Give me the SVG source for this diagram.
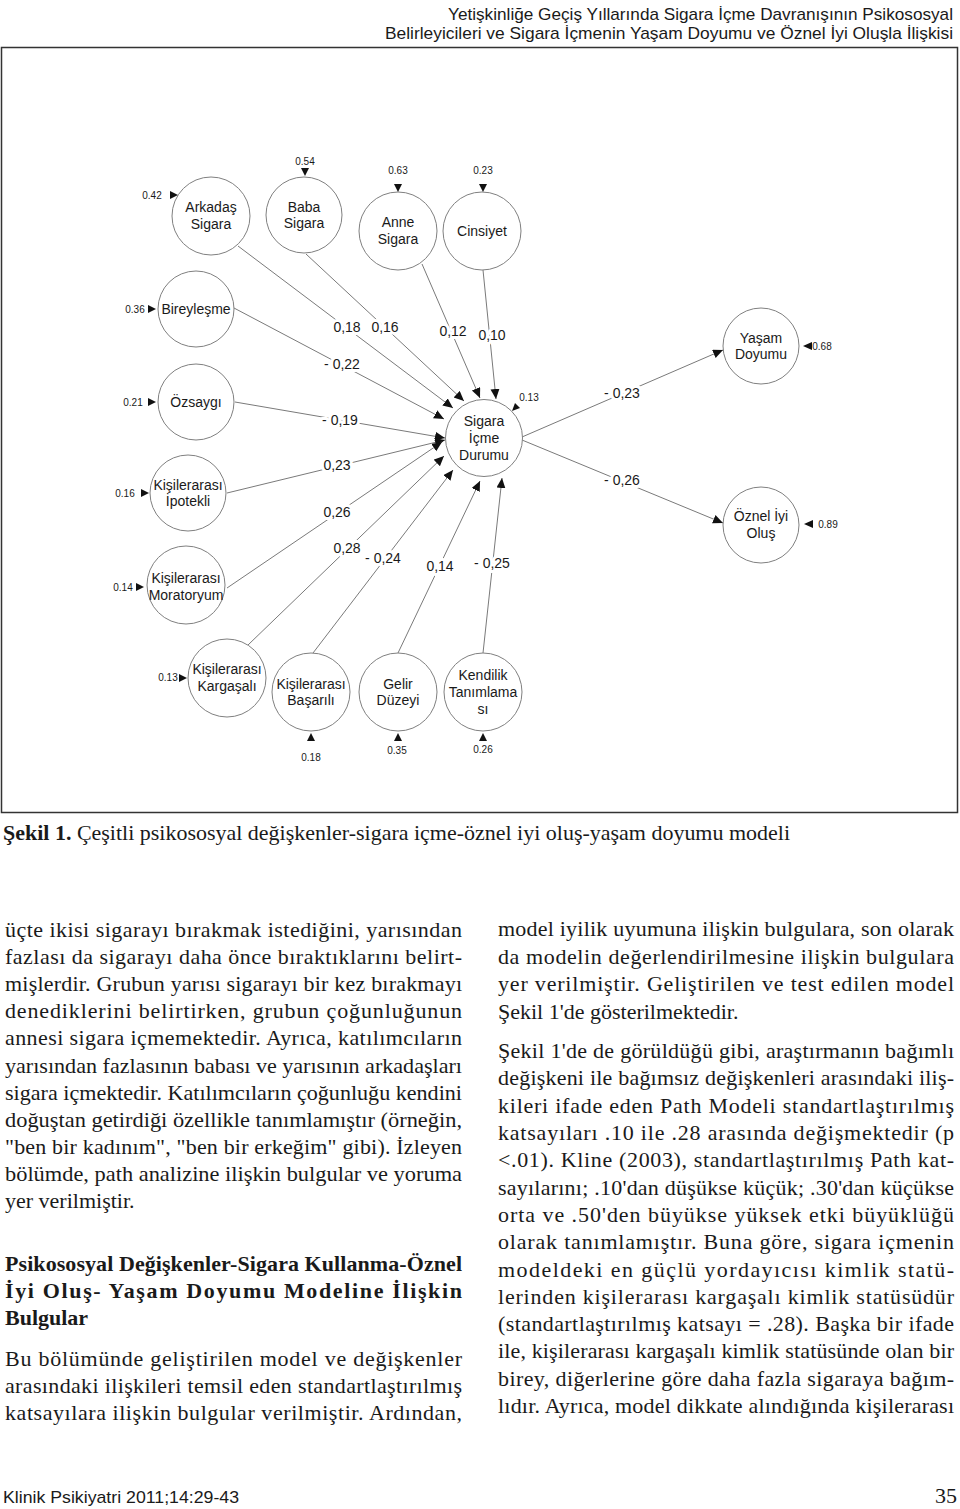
<svg xmlns="http://www.w3.org/2000/svg" width="960" height="1509" viewBox="0 0 960 1509">
<style>
.bg{fill:#fff}
.frame{fill:none;stroke:#333;stroke-width:1.5}
.n circle{fill:#fff;stroke:#808080;stroke-width:1}
.n text{font-family:"Liberation Sans",Arial,sans-serif;font-size:14px;fill:#1a1a1a;text-anchor:middle}
.c line{stroke:#7a7a7a;stroke-width:1;marker-end:url(#ah)}
.cl{font-family:"Liberation Sans",Arial,sans-serif;font-size:14px;fill:#1a1a1a;text-anchor:middle;paint-order:stroke;stroke:#fff;stroke-width:6px;stroke-linejoin:round}
.e text{font-family:"Liberation Sans",Arial,sans-serif;font-size:10px;fill:#1a1a1a;text-anchor:middle}
.e polygon{fill:#111}
.hd{font-family:"Liberation Sans",Arial,sans-serif;font-size:17px;fill:#1a1a1a}
.b{font-family:"Liberation Serif","Times New Roman",serif;font-size:22px;fill:#1a1a1a}
.bb{font-family:"Liberation Serif","Times New Roman",serif;font-size:22px;font-weight:bold;fill:#1a1a1a}
.ft{font-family:"Liberation Sans",Arial,sans-serif;font-size:17px;fill:#1a1a1a}
</style>
<defs>
<marker id="ah" markerUnits="userSpaceOnUse" markerWidth="11" markerHeight="10" refX="10" refY="4.5" orient="auto">
<path d="M0,0 L10,4.5 L0,9 z" fill="#111"/>
</marker>
</defs>
<rect class="bg" x="0" y="0" width="960" height="1509"/>

<!-- header -->
<text class="hd" x="448" y="20" textLength="505" lengthAdjust="spacingAndGlyphs">Yetişkinliğe Geçiş Yıllarında Sigara İçme Davranışının Psikososyal</text>
<text class="hd" x="385" y="39" textLength="568" lengthAdjust="spacingAndGlyphs">Belirleyicileri ve Sigara İçmenin Yaşam Doyumu ve Öznel İyi Oluşla İlişkisi</text>
<rect class="frame" x="1.5" y="47.5" width="956" height="765"/>

<!-- connectors -->
<g id="connectors" class="c">
<line x1="238" y1="246" x2="453" y2="408"/>
<line x1="306" y1="254" x2="464" y2="401"/>
<line x1="422" y1="264" x2="480" y2="398"/>
<line x1="483" y1="270" x2="496" y2="399"/>
<line x1="234" y1="308" x2="444" y2="419"/>
<line x1="235" y1="402" x2="445" y2="438"/>
<line x1="227" y1="493" x2="445" y2="440"/>
<line x1="227" y1="588" x2="442" y2="442"/>
<line x1="248" y1="645" x2="444" y2="456"/>
<line x1="313" y1="653" x2="453" y2="470"/>
<line x1="398" y1="653" x2="480" y2="481"/>
<line x1="483" y1="653" x2="502" y2="478"/>
<line x1="522" y1="437" x2="723" y2="350"/>
<line x1="522" y1="440" x2="723" y2="523"/>
</g>
<g id="coef-labels">
<text class="cl" x="347" y="332">0,18</text>
<text class="cl" x="385" y="332">0,16</text>
<text class="cl" x="453" y="336">0,12</text>
<text class="cl" x="492" y="340">0,10</text>
<text class="cl" x="342" y="369">- 0,22</text>
<text class="cl" x="340" y="425">- 0,19</text>
<text class="cl" x="337" y="470">0,23</text>
<text class="cl" x="337" y="517">0,26</text>
<text class="cl" x="347" y="553">0,28</text>
<text class="cl" x="383" y="563">- 0,24</text>
<text class="cl" x="440" y="571">0,14</text>
<text class="cl" x="492" y="568">- 0,25</text>
<text class="cl" x="622" y="398">- 0,23</text>
<text class="cl" x="622" y="485">- 0,26</text>
</g>

<!-- nodes -->
<g id="arkadas" class="n"><circle cx="211" cy="216" r="39"/><text x="211" y="212">Arkadaş</text><text x="211" y="229">Sigara</text></g>
<g id="baba" class="n"><circle cx="304" cy="215" r="38"/><text x="304" y="212">Baba</text><text x="304" y="228">Sigara</text></g>
<g id="anne" class="n"><circle cx="398" cy="231" r="39"/><text x="398" y="227">Anne</text><text x="398" y="244">Sigara</text></g>
<g id="cinsiyet" class="n"><circle cx="482" cy="231" r="39"/><text x="482" y="236">Cinsiyet</text></g>
<g id="bireylesme" class="n"><circle cx="196" cy="309" r="38"/><text x="196" y="314">Bireyleşme</text></g>
<g id="ozsaygi" class="n"><circle cx="196" cy="402" r="38"/><text x="196" y="407">Özsaygı</text></g>
<g id="ipotekli" class="n"><circle cx="188" cy="493" r="38"/><text x="188" y="490">Kişilerarası</text><text x="188" y="506">İpotekli</text></g>
<g id="moratoryum" class="n"><circle cx="186" cy="585" r="39"/><text x="186" y="583">Kişilerarası</text><text x="186" y="600">Moratoryum</text></g>
<g id="sigara" class="n"><circle cx="484" cy="438" r="38.5"/><text x="484" y="426">Sigara</text><text x="484" y="443">İçme</text><text x="484" y="460">Durumu</text></g>
<g id="yasam" class="n"><circle cx="761" cy="346" r="38"/><text x="761" y="343">Yaşam</text><text x="761" y="359">Doyumu</text></g>
<g id="oznel" class="n"><circle cx="761" cy="525" r="38"/><text x="761" y="521">Öznel İyi</text><text x="761" y="538">Oluş</text></g>
<g id="kargasali" class="n"><circle cx="227" cy="678" r="39"/><text x="227" y="674">Kişilerarası</text><text x="227" y="691">Kargaşalı</text></g>
<g id="basarili" class="n"><circle cx="311" cy="692" r="39"/><text x="311" y="689">Kişilerarası</text><text x="311" y="705">Başarılı</text></g>
<g id="gelir" class="n"><circle cx="398" cy="692" r="39"/><text x="398" y="689">Gelir</text><text x="398" y="705">Düzeyi</text></g>
<g id="kendilik" class="n"><circle cx="483" cy="692" r="39"/><text x="483" y="680">Kendilik</text><text x="483" y="697">Tanımlama</text><text x="483" y="714">sı</text></g>

<!-- error terms -->
<g id="errors" class="e">
<text x="152" y="199">0.42</text><polygon points="170,191 178,195 170,199"/>
<text x="305" y="165">0.54</text><polygon points="301,168 309,168 305,176"/>
<text x="398" y="174">0.63</text><polygon points="394,184 402,184 398,192"/>
<text x="483" y="174">0.23</text><polygon points="479,184 487,184 483,192"/>
<text x="135" y="313">0.36</text><polygon points="148,305 156,309 148,313"/>
<text x="133" y="406">0.21</text><polygon points="148,398 156,402 148,406"/>
<text x="125" y="497">0.16</text><polygon points="141,489 149,493 141,497"/>
<text x="123" y="591">0.14</text><polygon points="136,583 144,587 136,591"/>
<text x="168" y="681">0.13</text><polygon points="179,674 187,678 179,682"/>
<text x="311" y="761">0.18</text><polygon points="307,741 315,741 311,733"/>
<text x="397" y="754">0.35</text><polygon points="394,741 402,741 398,733"/>
<text x="483" y="753">0.26</text><polygon points="479,741 487,741 483,733"/>
<text x="822" y="350">0.68</text><polygon points="812,342 812,350 803,346"/>
<text x="828" y="528">0.89</text><polygon points="813,520 813,528 804,524"/>
<text x="529" y="401">0.13</text><polygon points="512,411 515,403 520,408"/>
</g>

<!-- caption -->
<text class="b" x="3" y="840" textLength="787" lengthAdjust="spacingAndGlyphs"><tspan font-weight="bold">Şekil 1.</tspan> Çeşitli psikososyal değişkenler-sigara içme-öznel iyi oluş-yaşam doyumu modeli</text>

<!-- left column -->
<g id="left-col">
<text class="b" x="5" y="937" textLength="457" lengthAdjust="spacing">üçte ikisi sigarayı bırakmak istediğini, yarısından</text>
<text class="b" x="5" y="964" textLength="457" lengthAdjust="spacing">fazlası da sigarayı daha önce bıraktıklarını belirt-</text>
<text class="b" x="5" y="991" textLength="457" lengthAdjust="spacing">mişlerdir. Grubun yarısı sigarayı bir kez bırakmayı</text>
<text class="b" x="5" y="1018" textLength="457" lengthAdjust="spacing">denediklerini belirtirken, grubun çoğunluğunun</text>
<text class="b" x="5" y="1045" textLength="457" lengthAdjust="spacing">annesi sigara içmemektedir. Ayrıca, katılımcıların</text>
<text class="b" x="5" y="1073" textLength="457" lengthAdjust="spacingAndGlyphs">yarısından fazlasının babası ve yarısının arkadaşları</text>
<text class="b" x="5" y="1100" textLength="457" lengthAdjust="spacingAndGlyphs">sigara içmektedir. Katılımcıların çoğunluğu kendini</text>
<text class="b" x="5" y="1127" textLength="457" lengthAdjust="spacingAndGlyphs">doğuştan getirdiği özellikle tanımlamıştır (örneğin,</text>
<text class="b" x="5" y="1154" textLength="457" lengthAdjust="spacing">"ben bir kadınım", "ben bir erkeğim" gibi). İzleyen</text>
<text class="b" x="5" y="1181" textLength="457" lengthAdjust="spacingAndGlyphs">bölümde, path analizine ilişkin bulgular ve yoruma</text>
<text class="b" x="5" y="1208">yer verilmiştir.</text>
<text class="bb" x="5" y="1271" textLength="457" lengthAdjust="spacing">Psikososyal Değişkenler-Sigara Kullanma-Öznel</text>
<text class="bb" x="5" y="1298" textLength="457" lengthAdjust="spacing">İyi Oluş- Yaşam Doyumu Modeline İlişkin</text>
<text class="bb" x="5" y="1325">Bulgular</text>
<text class="b" x="5" y="1366" textLength="457" lengthAdjust="spacing">Bu bölümünde geliştirilen model ve değişkenler</text>
<text class="b" x="5" y="1393" textLength="457" lengthAdjust="spacing">arasındaki ilişkileri temsil eden standartlaştırılmış</text>
<text class="b" x="5" y="1420" textLength="457" lengthAdjust="spacing">katsayılara ilişkin bulgular verilmiştir. Ardından,</text>
</g>

<!-- right column -->
<g id="right-col">
<text class="b" x="498" y="936" textLength="456" lengthAdjust="spacing">model iyilik uyumuna ilişkin bulgulara, son olarak</text>
<text class="b" x="498" y="964" textLength="456" lengthAdjust="spacing">da modelin değerlendirilmesine ilişkin bulgulara</text>
<text class="b" x="498" y="991" textLength="456" lengthAdjust="spacing">yer verilmiştir. Geliştirilen ve test edilen model</text>
<text class="b" x="498" y="1019">Şekil 1'de gösterilmektedir.</text>
<text class="b" x="498" y="1058" textLength="456" lengthAdjust="spacing">Şekil 1'de de görüldüğü gibi, araştırmanın bağımlı</text>
<text class="b" x="498" y="1085" textLength="456" lengthAdjust="spacing">değişkeni ile bağımsız değişkenleri arasındaki iliş-</text>
<text class="b" x="498" y="1113" textLength="456" lengthAdjust="spacing">kileri ifade eden Path Modeli standartlaştırılmış</text>
<text class="b" x="498" y="1140" textLength="456" lengthAdjust="spacing">katsayıları .10 ile .28 arasında değişmektedir (p</text>
<text class="b" x="498" y="1167" textLength="456" lengthAdjust="spacing">&lt;.01). Kline (2003), standartlaştırılmış Path kat-</text>
<text class="b" x="498" y="1195" textLength="456" lengthAdjust="spacing">sayılarını; .10'dan düşükse küçük; .30'dan küçükse</text>
<text class="b" x="498" y="1222" textLength="456" lengthAdjust="spacing">orta ve .50'den büyükse yüksek etki büyüklüğü</text>
<text class="b" x="498" y="1249" textLength="456" lengthAdjust="spacing">olarak tanımlamıştır. Buna göre, sigara içmenin</text>
<text class="b" x="498" y="1277" textLength="456" lengthAdjust="spacing">modeldeki en güçlü yordayıcısı kimlik statü-</text>
<text class="b" x="498" y="1304" textLength="456" lengthAdjust="spacing">lerinden kişilerarası kargaşalı kimlik statüsüdür</text>
<text class="b" x="498" y="1331" textLength="456" lengthAdjust="spacing">(standartlaştırılmış katsayı = .28). Başka bir ifade</text>
<text class="b" x="498" y="1358" textLength="456" lengthAdjust="spacing">ile, kişilerarası kargaşalı kimlik statüsünde olan bir</text>
<text class="b" x="498" y="1386" textLength="456" lengthAdjust="spacing">birey, diğerlerine göre daha fazla sigaraya bağım-</text>
<text class="b" x="498" y="1413" textLength="456" lengthAdjust="spacing">lıdır. Ayrıca, model dikkate alındığında kişilerarası</text>
</g>

<!-- footer -->
<text class="ft" x="3" y="1503" textLength="236" lengthAdjust="spacingAndGlyphs">Klinik Psikiyatri 2011;14:29-43</text>
<text class="b" x="935" y="1503" font-size="21">35</text>
</svg>
